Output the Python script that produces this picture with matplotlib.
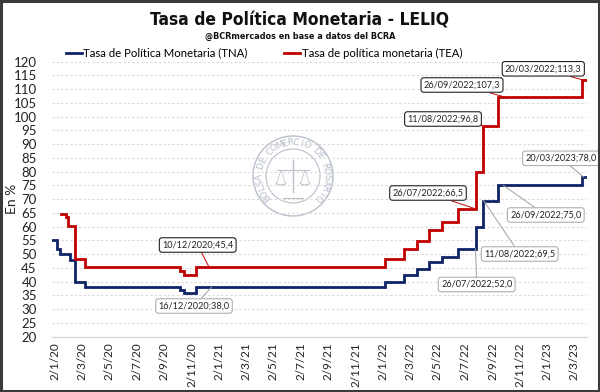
import numpy as np
import pandas as pd
import matplotlib
matplotlib.use("Agg")
import matplotlib.pyplot as plt
from matplotlib.patches import Rectangle, Circle, Arc

# ---------------- data ----------------
tna_dates = ['2019-12-27', '2020-01-07', '2020-01-13', '2020-02-04', '2020-02-17', '2020-03-10',
             '2020-10-06', '2020-10-16', '2020-11-12', '2022-01-06', '2022-02-17', '2022-03-17',
             '2022-04-13', '2022-05-12', '2022-06-16', '2022-07-28', '2022-08-11', '2022-09-15',
             '2023-03-20', '2023-03-31']
tna_values = [55, 52, 50, 48, 40, 38, 37, 36, 38, 40, 42.5, 44.5, 47, 49, 52, 60, 69.5, 75, 78, 78]

tea_dates = ['2020-01-16', '2020-01-27', '2020-01-31', '2020-02-17', '2020-03-10',
             '2020-10-06', '2020-10-16', '2020-11-12', '2022-01-06', '2022-02-17', '2022-03-17',
             '2022-04-13', '2022-05-12', '2022-06-16', '2022-07-28', '2022-08-11', '2022-09-15',
             '2023-03-20', '2023-03-31']
tea_values = [64.5, 63.4, 60.2, 48.3, 45.4, 44.0, 42.6, 45.4, 48.3, 51.9, 54.9, 58.7, 61.8, 66.5,
              79.8, 96.8, 107.3, 113.3, 113.3]

series_names = ['Tasa de Política Monetaria (TNA)', 'Tasa de política monetaria (TEA)']

tick_dates = pd.date_range('2020-01-01', '2023-03-01', freq='2MS') + pd.Timedelta(days=1)

# data labels: (date, value, label text)
labels_tea = [('2020-12-10', 45.4, '10/12/2020;45,4'),
              ('2022-07-26', 66.5, '26/07/2022;66,5'),
              ('2022-08-11', 96.8, '11/08/2022;96,8'),
              ('2022-09-26', 107.3, '26/09/2022;107,3'),
              ('2023-03-23', 113.3, '20/03/2022;113,3')]
labels_tna = [('2020-12-16', 38.0, '16/12/2020;38,0'),
              ('2022-07-26', 52.0, '26/07/2022;52,0'),
              ('2022-08-13', 69.5, '11/08/2022;69,5'),
              ('2022-09-26', 75.0, '26/09/2022;75,0'),
              ('2023-03-24', 78.0, '20/03/2023;78,0')]

# ---------------- figure ----------------
W, H = 600, 392
fig = plt.figure(figsize=(W / 100, H / 100), dpi=100)
fig.patch.set_facecolor('white')

def fx(px):
    return px / W

def fy(py):
    return 1 - py / H

ax = fig.add_axes([fx(52), fy(336.7), fx(587) - fx(52), fy(61.7) - fy(336.7)])

blue = '#0e2466'
red = '#c00000'
body_font = ['Lato', 'DejaVu Sans']
title_font = ['DejaVu Sans']

td = pd.to_datetime(tna_dates)
ed = pd.to_datetime(tea_dates)
l1, = ax.step(td, tna_values, where='post', color=blue, lw=2.0, zorder=3, solid_joinstyle='miter')
l2, = ax.step(ed, tea_values, where='post', color=red, lw=2.0, zorder=3, solid_joinstyle='miter')

ax.set_ylim(20, 120)
ax.set_yticks(np.arange(20, 121, 5))
ax.set_xlim(pd.Timestamp('2019-12-27'), pd.Timestamp('2023-03-31'))
ax.set_xticks(tick_dates)
ax.set_xticklabels([f"{d.day}/{d.month}/{d.strftime('%y')}" for d in tick_dates],
                   rotation=90, fontsize=8.5, family=body_font, color='#222222')
ax.set_yticklabels([str(v) for v in range(20, 121, 5)], fontsize=9.5, family=body_font, color='#222222')
ax.tick_params(axis='both', length=0, pad=4)
ax.tick_params(axis='y', pad=11)
ax.grid(axis='y', color='#d9d9d9', lw=0.8, ls=(0, (2, 2)))
ax.grid(axis='x', visible=False)
for s in ['top', 'right', 'left']:
    ax.spines[s].set_visible(False)
ax.spines['bottom'].set_color('#d9d9d9')
ax.spines['bottom'].set_linewidth(1.0)
ax.set_ylabel('En %', fontsize=10, family=body_font, color='#222222')
ax.yaxis.set_label_coords((18 - 52) / 535, 0.5)
ax.set_facecolor('none')

# titles
fig.text(0.5, fy(20), 'Tasa de Política Monetaria - LELIQ', ha='center', va='center',
         fontsize=12.5, fontweight='bold', fontstretch='condensed', family=title_font, color='#111111')
fig.text(0.5, fy(36), '@BCRmercados en base a datos del BCRA', ha='center', va='center',
         fontsize=6.5, fontweight='bold', fontstretch='condensed', family=title_font, color='#111111')

# legend
fig.legend([l1, l2], series_names, loc='center', bbox_to_anchor=(fx(264), fy(53)), ncol=2,
           frameon=False, prop={'family': body_font, 'size': 8.2}, handlelength=1.4,
           handletextpad=0.15, columnspacing=3.2, borderpad=0)

# data labels
def add_labels(items, color_ec, color_line, positions):
    for (d, v, txt), (cx, cy) in zip(items, positions):
        ax.annotate(txt, xy=(pd.Timestamp(d), v), xycoords='data',
                    xytext=(cx, H - cy), textcoords='figure pixels',
                    ha='center', va='center', fontsize=6.6, family=body_font, color='#222222',
                    bbox=dict(boxstyle='round,pad=0.3,rounding_size=0.3', fc='white', ec=color_ec, lw=0.8),
                    arrowprops=dict(arrowstyle='-', color=color_line, lw=0.7, shrinkA=0, shrinkB=0),
                    zorder=5, annotation_clip=False)

add_labels(labels_tea, '#222222', red,
           [(197.7, 245), (428, 193), (443, 119), (462, 85), (543.3, 68.8)])
add_labels(labels_tna, '#b0b0b0', '#a0a0a0',
           [(194, 306), (476.7, 284.5), (519.7, 254), (545.8, 215), (561, 158.3)])

# watermark seal
wcx, wcy, R = 293, 176, 46
axw = fig.add_axes([fx(wcx - R), fy(wcy + R), 2 * R / W, 2 * R / H])
axw.set_xlim(-R, R)
axw.set_ylim(-R, R)
axw.axis('off')
axw.set_zorder(0)
ax.set_zorder(1)
wc = '#b9bfcb'
axw.add_patch(Circle((0, 0), 40, fill=False, ec=wc, lw=1.0))
axw.add_patch(Circle((0, 0), 27, fill=False, ec=wc, lw=0.8))
seal_text = 'BOLSA DE COMERCIO DE ROSARIO'
angles = np.linspace(220, -40, len(seal_text))
for ch, a in zip(seal_text, angles):
    r = np.deg2rad(a)
    axw.text(33.5 * np.cos(r), 33.5 * np.sin(r), ch, rotation=a - 90, ha='center', va='center',
             fontsize=6.5, color=wc, family='DejaVu Sans')
axw.plot([0, 0], [-16, 16], color=wc, lw=1.0)
axw.plot([-16, 16], [6, 6], color=wc, lw=0.8)
axw.add_patch(Arc((-12, -6), 10, 6, theta1=180, theta2=360, ec=wc, lw=0.8))
axw.add_patch(Arc((12, -6), 10, 6, theta1=180, theta2=360, ec=wc, lw=0.8))
axw.plot([-16, -12, -8], [-6, 6, -6], color=wc, lw=0.5)
axw.plot([8, 12, 16], [-6, 6, -6], color=wc, lw=0.5)
axw.plot([-10, 10], [-22, -22], color=wc, lw=0.8)

# outer frame
fig.patches.append(Rectangle((0.0015, 0.0025), 0.997, 0.995, transform=fig.transFigure,
                             fill=False, ec='#3a3a3a', lw=2.2))

fig.savefig('out.png', dpi=100, facecolor='white')
